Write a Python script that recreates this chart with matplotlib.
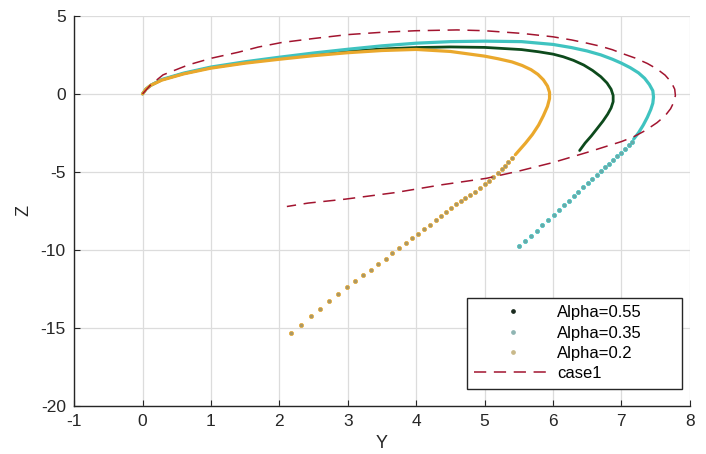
import matplotlib
matplotlib.use('Agg')
import matplotlib.pyplot as plt
from matplotlib.lines import Line2D

plt.rcParams['font.family'] = ['Liberation Sans', 'DejaVu Sans']
plt.rcParams['axes.unicode_minus'] = False

# series labels and colours
labels = ['Alpha=0.55', 'Alpha=0.35', 'Alpha=0.2', 'case1']
colors = ['#0d4a1c', '#3fc3c0', '#eaa82c', '#a2142f']

# Alpha=0.55 (dense part only)
g_y = [0, 0.05, 0.12, 0.28, 0.6, 1.0, 1.5, 2.0, 2.5, 3.0, 3.5, 4.0, 4.5, 5.0, 5.54, 5.79,
       6.0, 6.15, 6.3, 6.45, 6.58, 6.7, 6.79, 6.85, 6.88, 6.88, 6.85, 6.80, 6.73, 6.65,
       6.56, 6.47, 6.39]
g_z = [0, 0.3, 0.55, 0.9, 1.3, 1.68, 2.0, 2.27, 2.5, 2.72, 2.88, 2.97, 3.01, 2.98, 2.84, 2.7,
       2.55, 2.38, 2.15, 1.85, 1.5, 1.1, 0.7, 0.3, -0.1, -0.5, -0.9, -1.3, -1.75, -2.2,
       -2.7, -3.15, -3.63]

# Alpha=0.35 dense part + sparse tail
c_y = [0, 0.05, 0.12, 0.28, 0.6, 1.0, 1.5, 2.0, 2.5, 3.0, 3.5, 4.0, 4.5, 5.0, 5.54, 6.0,
       6.27, 6.5, 6.7, 6.87, 7.0, 7.13, 7.25, 7.34, 7.41, 7.46, 7.47, 7.46, 7.43, 7.38,
       7.32, 7.25, 7.18]
c_z = [0, 0.3, 0.55, 0.92, 1.33, 1.72, 2.06, 2.35, 2.62, 2.86, 3.08, 3.25, 3.35, 3.38, 3.35, 3.17,
       2.97, 2.75, 2.5, 2.22, 1.97, 1.68, 1.35, 1.0, 0.6, 0.2, -0.2, -0.6, -1.0, -1.5,
       -2.0, -2.5, -2.9]
c_tail_y = [7.16, 7.11, 7.05, 6.99, 6.93, 6.88, 6.82, 6.76, 6.70, 6.64, 6.57, 6.51, 6.44,
            6.37, 6.31, 6.23, 6.16, 6.09, 6.01, 5.93, 5.84, 5.76, 5.68, 5.59, 5.51]
c_tail_z = [-3.06, -3.29, -3.53, -3.76, -4.00, -4.23, -4.47, -4.70, -4.94, -5.19, -5.45,
            -5.71, -5.98, -6.26, -6.54, -6.84, -7.14, -7.44, -7.76, -8.08, -8.42, -8.76,
            -9.10, -9.42, -9.74]

# Alpha=0.2 dense part + sparse tail
o_y = [0, 0.05, 0.12, 0.28, 0.6, 1.0, 1.5, 2.0, 2.5, 3.0, 3.5, 4.0, 4.5, 5.0, 5.2, 5.4,
       5.55, 5.68, 5.78, 5.86, 5.92, 5.95, 5.95, 5.92, 5.86, 5.79, 5.70, 5.60, 5.50, 5.45]
o_z = [0, 0.3, 0.55, 0.88, 1.28, 1.65, 1.97, 2.22, 2.45, 2.64, 2.78, 2.85, 2.72, 2.42, 2.25, 2.05,
       1.82, 1.55, 1.25, 0.9, 0.5, 0.1, -0.3, -0.8, -1.4, -2.0, -2.6, -3.15, -3.65, -3.9]
o_tail_y = [5.40, 5.35, 5.30, 5.25, 5.19, 5.13, 5.07, 5.00, 4.93, 4.86, 4.78, 4.72, 4.66,
            4.586, 4.508, 4.434, 4.361, 4.284, 4.200, 4.118, 4.030, 3.937, 3.845, 3.752,
            3.650, 3.553, 3.446, 3.338, 3.221, 3.104, 2.982, 2.856, 2.729, 2.598, 2.456,
            2.315, 2.164]
o_tail_z = [-4.12, -4.36, -4.60, -4.84, -5.08, -5.32, -5.56, -5.80, -6.04, -6.27, -6.50,
            -6.67, -6.84, -7.07, -7.33, -7.59, -7.84, -8.10, -8.38, -8.67, -8.95, -9.25,
            -9.57, -9.89, -10.21, -10.56, -10.90, -11.26, -11.62, -12.01, -12.41, -12.84,
            -13.29, -13.76, -14.25, -14.79, -15.34]

# case1 (dashed)
d_y = [0, 0.12, 0.30, 0.67, 1.01, 1.40, 1.69, 2.03, 2.5, 3.0, 3.5, 4.0, 4.6, 5.0, 5.54, 6.0,
       6.27, 6.5, 6.7, 6.87, 7.0, 7.2, 7.38, 7.52, 7.64, 7.73, 7.78, 7.79, 7.77, 7.72, 7.64,
       7.52, 7.35, 7.18, 7.0, 6.5, 6.0, 5.5, 5.03, 4.37, 3.69, 2.96, 2.42, 2.11]
d_z = [0, 0.58, 1.22, 1.86, 2.29, 2.67, 3.0, 3.29, 3.55, 3.8, 3.95, 4.05, 4.1, 4.05, 3.88, 3.66,
       3.46, 3.25, 3.05, 2.83, 2.61, 2.3, 1.95, 1.6, 1.2, 0.75, 0.3, -0.1, -0.5, -0.95, -1.4,
       -1.85, -2.35, -2.75, -3.06, -3.75, -4.4, -4.95, -5.41, -5.83, -6.33, -6.75, -7.0, -7.22]

x_ticks = list(range(-1, 9))
y_ticks = [-20, -15, -10, -5, 0, 5]

fig = plt.figure(figsize=(7.06, 4.54), dpi=100)
ax = fig.add_axes([0.105, 0.106, 0.872, 0.859])

ax.plot(g_y, g_z, color=colors[0], lw=2.0, solid_capstyle='round', solid_joinstyle='round')
ax.plot(c_y, c_z, color=colors[1], lw=2.3, solid_capstyle='round', solid_joinstyle='round')
ax.plot(c_tail_y, c_tail_z, ls='none', marker='o', ms=3.0, mew=0.5,
        mfc='#6aa9a8', mec=colors[1])
ax.plot(o_y, o_z, color=colors[2], lw=2.3, solid_capstyle='round', solid_joinstyle='round')
ax.plot(o_tail_y, o_tail_z, ls='none', marker='o', ms=3.0, mew=0.5,
        mfc='#a89868', mec=colors[2])
ax.plot(d_y, d_z, color=colors[3], lw=1.1, dashes=(8, 5))

ax.set_xlim(-1, 8)
ax.set_ylim(-20, 5)
ax.set_xticks(x_ticks)
ax.set_yticks(y_ticks)
ax.grid(True, color='#dcdcdc', lw=0.9)
ax.set_axisbelow(True)
for s in ['top', 'right']:
    ax.spines[s].set_visible(False)
for s in ['left', 'bottom']:
    ax.spines[s].set_color('#262626')
    ax.spines[s].set_linewidth(1.0)
ax.tick_params(direction='in', length=4, width=0.8, colors='#262626',
               labelsize=12.5, pad=6)
ax.set_xlabel('Y', fontsize=13, color='#262626', labelpad=4)
ax.set_ylabel('Z', fontsize=13, color='#262626', labelpad=6)

handles = [
    Line2D([], [], ls='none', marker='o', ms=2.4, color='#1a2a1e'),
    Line2D([], [], ls='none', marker='o', ms=2.4, color='#8fb5b3'),
    Line2D([], [], ls='none', marker='o', ms=2.4, color='#c9b98a'),
    Line2D([], [], color=colors[3], lw=1.1, dashes=(8, 5)),
]
leg = ax.legend(handles, labels, loc='lower right',
                bbox_to_anchor=(0.638, 0.044, 0.349, 0.24), mode='expand',
                fontsize=12, frameon=True, fancybox=False, framealpha=1,
                edgecolor='#262626', handlelength=4.6, handletextpad=0.35,
                labelspacing=0.32, borderpad=0.45, borderaxespad=0)
leg.get_frame().set_linewidth(1.0)

fig.savefig('out.png', dpi=100)
